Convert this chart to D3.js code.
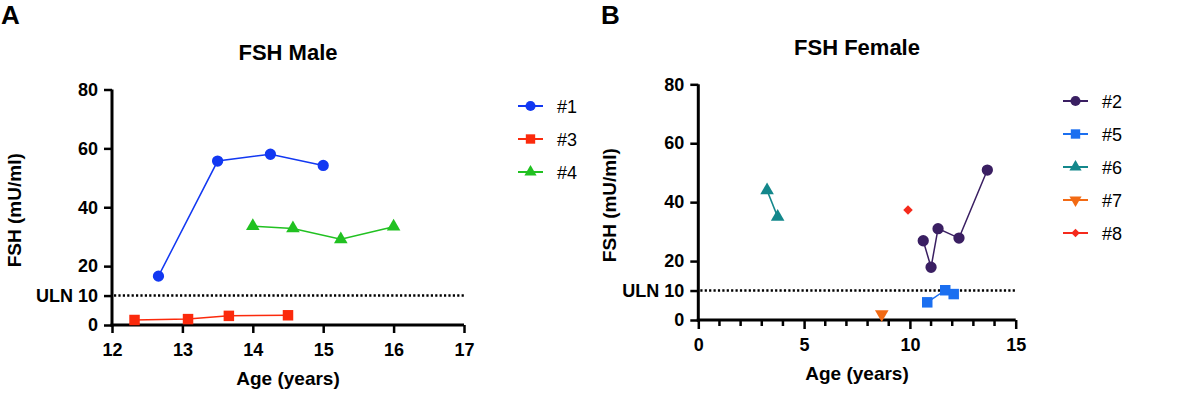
<!DOCTYPE html>
<html>
<head>
<meta charset="utf-8">
<script src="https://cdn.jsdelivr.net/npm/d3@7"></script>
<style>
  body { margin: 0; background: white; }
  svg { font-family: "Liberation Sans", Arial, sans-serif; }
</style>
</head>
<body>
<div id="canvas"></div>
<script>
// DATA
const maleIds = ["#1", "#3", "#4"];
const male1Age = [12.66, 13.5, 14.25, 15.0];
const male1Fsh = [16.6, 55.7, 58.0, 54.2];
const male3Age = [12.32, 13.08, 13.66, 14.5];
const male3Fsh = [1.7, 2.0, 3.1, 3.3];
const male4Age = [14.0, 14.57, 15.25, 16.0];
const male4Fsh = [33.6, 32.8, 29.1, 33.4];

const femaleIds = ["#2", "#5", "#6", "#7", "#8"];
const female2Age = [10.63, 11.0, 11.33, 12.32, 13.66];
const female2Fsh = [26.9, 17.9, 31.0, 27.8, 50.9];
const female5Age = [10.82, 11.67, 12.07];
const female5Fsh = [6.0, 10.1, 8.8];
const female6Age = [3.25, 3.75];
const female6Fsh = [44.0, 35.0];
const female7Age = [8.67];
const female7Fsh = [2.0];
const female8Age = [9.91];
const female8Fsh = [37.3];

const yTicks = [0, 10, 20, 40, 60, 80];
const uln = 10;

// DIMENSIONS
const width = 1181;
const height = 393;

const canvas = d3.select("#canvas")
  .append("svg")
  .attr("width", width)
  .attr("height", height);

const zip = (a, b) => a.map((v, i) => ({ x: v, y: b[i] }));

const maleSeries = [
  { id: maleIds[0], data: zip(male1Age, male1Fsh), color: "#1238f2", shape: d3.symbolCircle, size: 100 },
  { id: maleIds[1], data: zip(male3Age, male3Fsh), color: "#fb2a0c", shape: d3.symbolSquare, size: 110 },
  { id: maleIds[2], data: zip(male4Age, male4Fsh), color: "#21c121", shape: d3.symbolTriangle, size: 80 }
];

const femaleSeries = [
  { id: femaleIds[0], data: zip(female2Age, female2Fsh), color: "#3a1f62", shape: d3.symbolCircle, size: 100 },
  { id: femaleIds[1], data: zip(female5Age, female5Fsh), color: "#1b6ff0", shape: d3.symbolSquare, size: 110 },
  { id: femaleIds[2], data: zip(female6Age, female6Fsh), color: "#13878b", shape: d3.symbolTriangle, size: 80 },
  { id: femaleIds[3], data: zip(female7Age, female7Fsh), color: "#f26a14", shape: d3.symbolTriangle, size: 80, rot: 180 },
  { id: femaleIds[4], data: zip(female8Age, female8Fsh), color: "#f52a1c", shape: d3.symbolSquare, size: 45, rot: 45 }
];

function drawPanel(opts) {
  const g = canvas.append("g");

  const x = d3.scaleLinear().domain(opts.xDomain).range([opts.left, opts.right]);
  const y = d3.scaleLinear().domain([0, 80]).range([opts.bottom, opts.top]);

  // panel letter
  g.append("text")
    .attr("x", opts.letterX).attr("y", 24)
    .style("font-size", "26px").style("font-weight", "bold")
    .text(opts.letter);

  // title
  g.append("text")
    .attr("x", opts.titleX).attr("y", opts.titleY)
    .attr("text-anchor", "middle")
    .style("font-size", "22px").style("font-weight", "bold")
    .text(opts.title);

  // ULN line
  g.append("line")
    .attr("x1", x(opts.xDomain[0]) + 2).attr("x2", x(opts.xDomain[1]))
    .attr("y1", y(uln)).attr("y2", y(uln))
    .style("stroke", "black").style("stroke-width", 2.5)
    .style("stroke-dasharray", "2.2,2.2");

  // y axis
  const yAxis = d3.axisLeft(y)
    .tickValues(yTicks)
    .tickSize(8)
    .tickPadding(6)
    .tickFormat(d => d === uln ? "ULN 10" : d);
  const ya = g.append("g")
    .attr("transform", `translate(${opts.left},0)`)
    .call(yAxis);

  // x axis
  const xAxis = d3.axisBottom(x)
    .tickValues(opts.xTicks)
    .tickSize(opts.minor ? 9 : 8)
    .tickPadding(opts.minor ? 9 : 10)
    .tickFormat(d3.format("d"));
  const xa = g.append("g")
    .attr("transform", `translate(0,${opts.bottom})`)
    .call(xAxis);

  if (opts.minor) {
    xa.selectAll("line.minor")
      .data(opts.minor)
      .join("line")
      .attr("class", "minor")
      .attr("x1", d => x(d)).attr("x2", d => x(d))
      .attr("y1", 0).attr("y2", 6)
      .style("stroke", "black").style("stroke-width", 2.5);
  }

  [ya, xa].forEach(a => {
    a.select(".domain").style("stroke", "black").style("stroke-width", 3);
    a.selectAll(".tick line").style("stroke", "black").style("stroke-width", 2.5);
    a.selectAll(".tick text")
      .style("font-size", "18px").style("font-weight", "bold")
      .style("fill", "black")
      .style("font-family", "'Liberation Sans', Arial, sans-serif");
  });
  ya.select(".domain").attr("d", `M-0,${opts.bottom + 1.5}V${opts.top}`);
  xa.select(".domain").attr("d", `M${opts.left - 1.5},0H${opts.right}`);

  // axis labels
  g.append("text")
    .attr("transform", `translate(${opts.yLabelX},${(opts.top + opts.bottom) / 2 + 3}) rotate(-90)`)
    .attr("text-anchor", "middle")
    .style("font-size", "19px").style("font-weight", "bold")
    .text("FSH (mU/ml)");

  g.append("text")
    .attr("x", opts.titleX).attr("y", opts.xLabelY)
    .attr("text-anchor", "middle")
    .style("font-size", "19px").style("font-weight", "bold")
    .text("Age (years)");

  // lines and markers
  const line = d3.line().x(d => x(d.x)).y(d => y(d.y));

  opts.series.forEach(s => {
    g.append("path")
      .datum(s.data)
      .attr("d", line)
      .style("fill", "none")
      .style("stroke", s.color)
      .style("stroke-width", 1.5);

    g.selectAll(null)
      .data(s.data)
      .join("path")
      .attr("d", d3.symbol().type(s.shape).size(s.size))
      .attr("transform", d => `translate(${x(d.x)},${y(d.y)})${s.rot ? ` rotate(${s.rot})` : ""}`)
      .style("fill", s.color);
  });

  // legend
  const leg = g.append("g")
    .selectAll("g")
    .data(opts.series)
    .join("g")
    .attr("transform", (d, i) => `translate(${opts.legX},${opts.legY + i * opts.legStep})`);

  leg.append("line")
    .attr("x1", 0).attr("x2", 25)
    .style("stroke", d => d.color).style("stroke-width", 2);

  leg.append("path")
    .attr("d", d => d3.symbol().type(d.shape).size(d.size * 0.8)())
    .attr("transform", d => `translate(12.5,0)${d.rot ? ` rotate(${d.rot})` : ""}`)
    .style("fill", d => d.color);

  leg.append("text")
    .attr("x", 39).attr("y", 6.5)
    .style("font-size", "18px")
    .text(d => d.id);
}

drawPanel({
  letter: "A", letterX: 1,
  title: "FSH Male", titleX: 288, titleY: 60,
  xDomain: [12, 17], xTicks: [12, 13, 14, 15, 16, 17],
  left: 112, right: 464, top: 89.5, bottom: 325,
  yLabelX: 21, xLabelY: 385,
  series: maleSeries,
  legX: 518, legY: 106, legStep: 33
});

drawPanel({
  letter: "B", letterX: 601,
  title: "FSH Female", titleX: 857, titleY: 55,
  xDomain: [0, 15], xTicks: [0, 5, 10, 15],
  minor: [1, 2, 3, 4, 6, 7, 8, 9, 11, 12, 13, 14],
  left: 698.3, right: 1015.7, top: 84.3, bottom: 320,
  yLabelX: 616, xLabelY: 380,
  series: femaleSeries,
  legX: 1063, legY: 101, legStep: 33
});
</script>
</body>
</html>
